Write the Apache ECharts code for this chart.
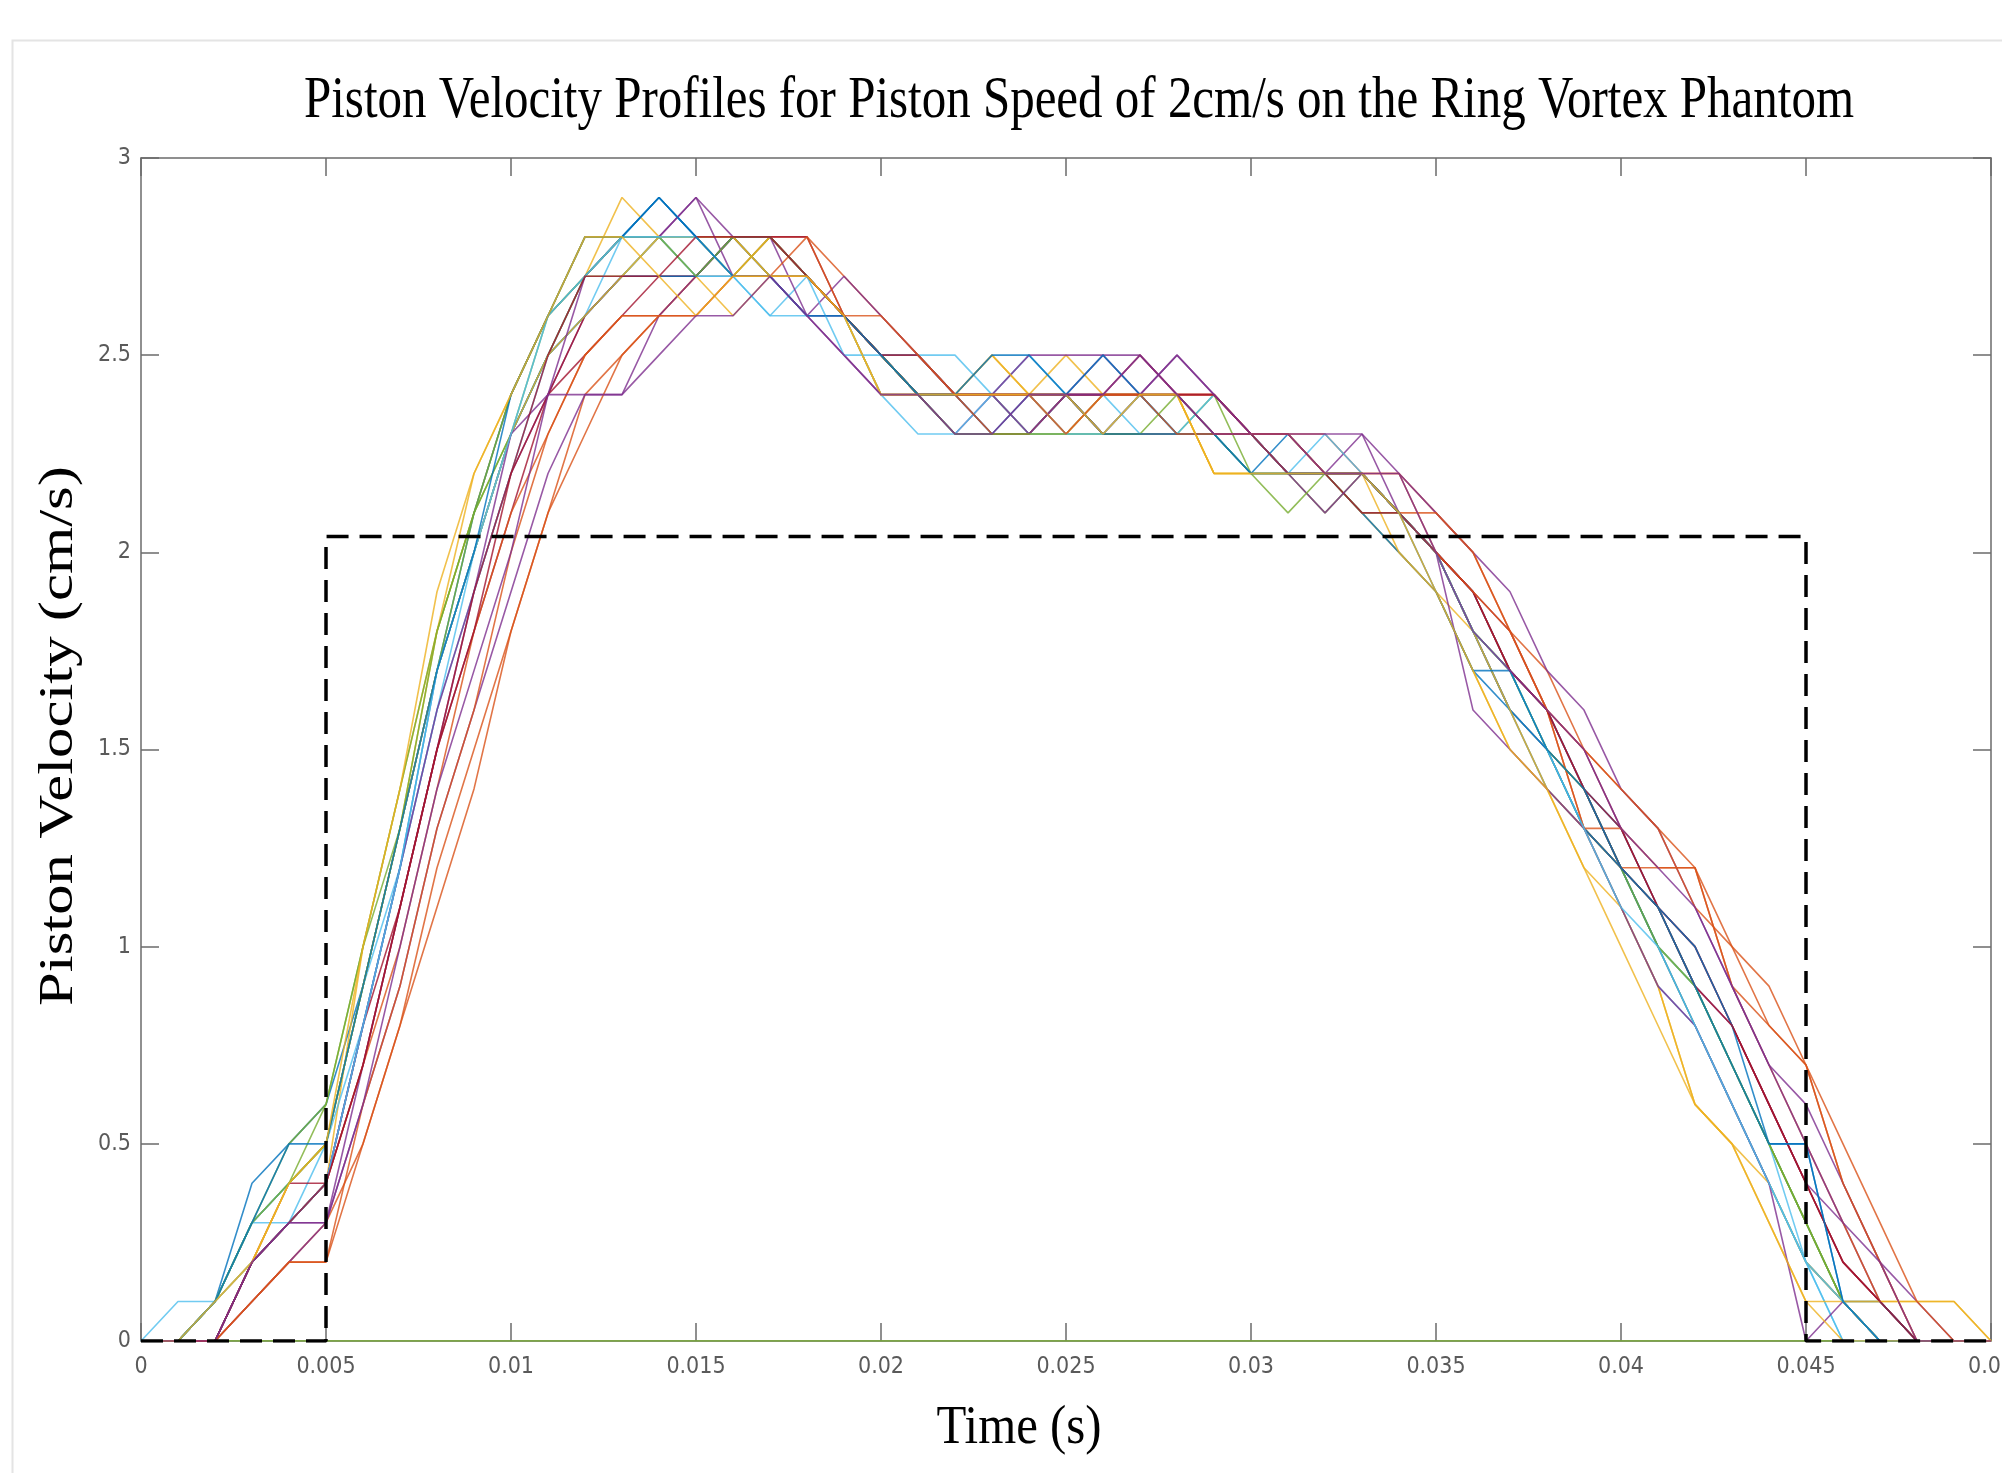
<!DOCTYPE html>
<html>
<head>
<meta charset="utf-8">
<script src="https://cdn.jsdelivr.net/npm/echarts@6/dist/echarts.min.js"></script>
<style>
html,body{margin:0;padding:0;background:#fff;overflow:hidden;}
#chart{width:2002px;height:1473px;}
</style>
</head>
<body>
<div id="chart"></div>
<script>
const titleText = 'Piston Velocity Profiles for Piston Speed of 2cm/s on the Ring Vortex Phantom';
const xName = 'Time (s)';
const yName = 'Piston Velocity (cm/s)';

const times = [0,0.001,0.002,0.003,0.004,0.005,0.006,0.007,0.008,0.009,
  0.010,0.011,0.012,0.013,0.014,0.015,0.016,0.017,0.018,0.019,
  0.020,0.021,0.022,0.023,0.024,0.025,0.026,0.027,0.028,0.029,
  0.030,0.031,0.032,0.033,0.034,0.035,0.036,0.037,0.038,0.039,
  0.040,0.041,0.042,0.043,0.044,0.045,0.046,0.047,0.048,0.049,
  0.050];

const run01 = [0,0,0.1,0.4,0.5,0.6,0.9,1.3,1.7,2.0, 2.3,2.5,2.7,2.8,2.9,2.8,2.8,2.7,2.7,2.6, 2.5,2.4,2.4,2.4,2.3,2.4,2.4,2.4,2.3,2.3, 2.3,2.2,2.2,2.2,2.1,2.0,1.9,1.7,1.6,1.4, 1.3,1.1,0.9,0.7,0.5,0.3,0.1,0,0,0, 0];
const run02 = [0,0,0,0.1,0.2,0.3,0.5,0.8,1.2,1.5, 1.8,2.1,2.4,2.5,2.6,2.7,2.7,2.8,2.8,2.7, 2.6,2.5,2.4,2.4,2.4,2.4,2.3,2.4,2.4,2.4, 2.3,2.3,2.3,2.2,2.2,2.1,2.0,1.8,1.7,1.5, 1.4,1.3,1.2,0.9,0.8,0.7,0.4,0.2,0,0, 0];
const run03 = [0,0,0.1,0.2,0.3,0.4,1.0,1.4,1.8,2.1, 2.4,2.6,2.7,2.9,2.8,2.7,2.6,2.7,2.7,2.6, 2.5,2.4,2.4,2.5,2.4,2.5,2.4,2.4,2.4,2.2, 2.2,2.2,2.2,2.1,2.0,1.9,1.8,1.6,1.5,1.3, 1.2,1.0,0.8,0.6,0.4,0.2,0.1,0.1,0.1,0.1, 0];
const run04 = [0,0,0,0.2,0.3,0.3,0.7,1.1,1.5,1.9, 2.2,2.4,2.6,2.7,2.8,2.9,2.8,2.7,2.6,2.7, 2.6,2.5,2.4,2.3,2.3,2.4,2.5,2.5,2.4,2.3, 2.3,2.2,2.2,2.3,2.1,2.0,1.8,1.6,1.5,1.4, 1.2,1.1,0.9,0.8,0.6,0.4,0.3,0.1,0,0, 0];
const run05 = [0,0,0.1,0.3,0.5,0.6,1.0,1.4,1.8,2.1, 2.3,2.5,2.7,2.7,2.8,2.8,2.7,2.8,2.7,2.6, 2.5,2.4,2.3,2.3,2.3,2.3,2.3,2.3,2.3,2.4, 2.2,2.2,2.1,2.2,2.1,2.0,1.8,1.7,1.5,1.3, 1.2,1.0,0.9,0.7,0.5,0.3,0.1,0,0,0, 0];
const run06 = [0,0.1,0.1,0.3,0.3,0.5,0.9,1.2,1.6,2.0, 2.3,2.5,2.6,2.7,2.8,2.7,2.7,2.6,2.7,2.6, 2.5,2.5,2.5,2.4,2.5,2.4,2.3,2.4,2.3,2.4, 2.3,2.2,2.3,2.2,2.1,2.0,1.9,1.7,1.6,1.4, 1.2,1.0,0.9,0.7,0.5,0.2,0,0,0,0, 0];
const run07 = [0,0,0,0.2,0.4,0.4,0.8,1.1,1.5,1.8, 2.1,2.4,2.5,2.6,2.7,2.7,2.8,2.8,2.8,2.6, 2.5,2.5,2.4,2.4,2.4,2.4,2.4,2.5,2.4,2.4, 2.3,2.2,2.2,2.2,2.1,2.0,1.9,1.8,1.6,1.5, 1.3,1.1,1.0,0.8,0.6,0.4,0.2,0.1,0,0, 0];
const run08 = [0,0,0.1,0.3,0.4,0.5,0.9,1.3,1.7,2.1, 2.4,2.6,2.7,2.8,2.9,2.8,2.7,2.7,2.6,2.6, 2.4,2.4,2.3,2.3,2.3,2.4,2.3,2.3,2.3,2.3, 2.2,2.2,2.2,2.1,2.0,1.9,1.7,1.6,1.4,1.3, 1.2,1.0,0.8,0.6,0.4,0.2,0.1,0,0,0, 0];
const run09 = [0,0,0,0.2,0.3,0.4,0.7,1.0,1.4,1.8, 2.1,2.3,2.5,2.6,2.6,2.7,2.8,2.8,2.7,2.6, 2.5,2.4,2.4,2.4,2.4,2.3,2.4,2.4,2.4,2.4, 2.3,2.3,2.2,2.2,2.1,2.0,1.9,1.7,1.6,1.3, 1.2,1.2,1.2,0.9,0.7,0.5,0.3,0.1,0,0, 0];
const run10 = [0,0,0,0.2,0.4,0.5,0.9,1.3,1.8,2.2, 2.4,2.6,2.8,2.8,2.8,2.8,2.7,2.8,2.7,2.6, 2.4,2.4,2.4,2.4,2.3,2.3,2.4,2.4,2.4,2.2, 2.2,2.2,2.2,2.2,2.0,1.9,1.7,1.5,1.4,1.2, 1.1,0.9,0.6,0.5,0.4,0.2,0.1,0,0,0, 0];
const run11 = [0,0,0,0.1,0.2,0.3,0.6,0.9,1.3,1.6, 1.9,2.2,2.4,2.4,2.6,2.7,2.8,2.8,2.6,2.5, 2.4,2.4,2.3,2.4,2.5,2.5,2.5,2.4,2.5,2.4, 2.3,2.3,2.3,2.3,2.2,2.1,2.0,1.9,1.7,1.6, 1.4,1.3,1.1,0.9,0.7,0.6,0.4,0.2,0.1,0, 0];
const run12 = [0,0,0.1,0.3,0.4,0.6,1.0,1.3,1.7,2.1, 2.3,2.6,2.8,2.8,2.8,2.8,2.8,2.7,2.7,2.6, 2.5,2.4,2.4,2.4,2.4,2.4,2.3,2.3,2.3,2.3, 2.3,2.2,2.2,2.1,2.1,2.0,1.8,1.7,1.5,1.4, 1.2,1.0,0.9,0.7,0.5,0.3,0.1,0,0,0, 0];
const run13 = [0,0,0.1,0.3,0.4,0.5,0.8,1.2,1.6,1.9, 2.2,2.5,2.6,2.8,2.8,2.7,2.7,2.6,2.6,2.6, 2.4,2.3,2.3,2.4,2.3,2.3,2.4,2.3,2.3,2.3, 2.2,2.2,2.2,2.2,2.1,2.0,1.8,1.6,1.5,1.3, 1.1,0.9,0.8,0.6,0.4,0.2,0,0,0,0, 0];
const run14 = [0,0,0,0.2,0.3,0.4,0.7,1.1,1.5,1.8, 2.2,2.4,2.6,2.7,2.7,2.7,2.8,2.8,2.7,2.6, 2.5,2.4,2.4,2.4,2.4,2.4,2.4,2.4,2.4,2.4, 2.3,2.2,2.2,2.1,2.1,2.0,1.9,1.7,1.6,1.4, 1.3,1.1,1.0,0.8,0.6,0.4,0.2,0.1,0,0, 0];
const run15 = [0,0,0,0.2,0.3,0.4,0.8,1.2,1.7,2.0, 2.3,2.5,2.6,2.7,2.7,2.7,2.8,2.8,2.7,2.6, 2.5,2.4,2.4,2.3,2.4,2.4,2.5,2.4,2.3,2.3, 2.2,2.3,2.2,2.2,2.1,2.0,1.8,1.6,1.5,1.3, 1.2,1.1,1.0,0.8,0.5,0.5,0.1,0.1,0,0, 0];
const run16 = [0,0,0,0.1,0.2,0.2,0.5,0.8,1.1,1.4, 1.8,2.1,2.3,2.5,2.6,2.6,2.7,2.7,2.8,2.6, 2.5,2.4,2.4,2.3,2.3,2.4,2.3,2.3,2.3,2.3, 2.3,2.3,2.2,2.2,2.1,2.1,2.0,1.8,1.6,1.3, 1.3,1.2,1.2,1.0,0.9,0.7,0.4,0.2,0,0, 0];
const run17 = [0,0,0.1,0.2,0.4,0.5,0.9,1.3,1.7,2.0, 2.3,2.5,2.6,2.7,2.8,2.8,2.8,2.7,2.7,2.6, 2.4,2.4,2.4,2.5,2.4,2.3,2.4,2.4,2.4,2.2, 2.2,2.2,2.2,2.2,2.1,2.0,1.8,1.6,1.4,1.3, 1.1,0.9,0.6,0.5,0.3,0.1,0.1,0.1,0.1,0.1, 0];
const run18 = [0,0,0,0.2,0.3,0.4,0.8,1.2,1.6,1.9, 2.3,2.4,2.7,2.8,2.8,2.9,2.7,2.7,2.6,2.6, 2.5,2.4,2.4,2.4,2.3,2.4,2.3,2.4,2.5,2.4, 2.3,2.2,2.1,2.2,2.1,2.0,1.6,1.5,1.4,1.3, 1.1,0.9,0.8,0.6,0.4,0,0.1,0,0,0, 0];
const run19 = [0,0,0.1,0.3,0.4,0.5,0.9,1.3,1.8,2.1, 2.4,2.6,2.7,2.8,2.8,2.7,2.8,2.8,2.7,2.6, 2.5,2.4,2.3,2.3,2.3,2.3,2.3,2.3,2.4,2.3, 2.2,2.1,2.2,2.2,2.1,2.0,1.8,1.7,1.5,1.4, 1.2,1.1,0.9,0.7,0.5,0.3,0.1,0,0,0, 0];
const run20 = [0,0,0.1,0.2,0.3,0.4,0.8,1.2,1.7,2.0, 2.3,2.6,2.7,2.8,2.8,2.8,2.7,2.7,2.7,2.5, 2.5,2.5,2.4,2.4,2.4,2.3,2.3,2.4,2.4,2.3, 2.3,2.2,2.2,2.2,2.1,2.0,1.8,1.7,1.5,1.3, 1.1,1.0,0.8,0.6,0.4,0.2,0.1,0,0,0, 0];
const run21 = [0,0,0,0.2,0.3,0.4,0.7,1.1,1.5,1.9, 2.2,2.5,2.7,2.7,2.7,2.8,2.8,2.8,2.7,2.6, 2.5,2.5,2.4,2.4,2.4,2.4,2.4,2.4,2.4,2.3, 2.3,2.2,2.2,2.2,2.1,2.0,1.9,1.7,1.6,1.4, 1.2,1.1,0.9,0.8,0.6,0.4,0.2,0.1,0,0, 0];
const run22 = [0,0,0.1,0.3,0.5,0.5,0.9,1.3,1.7,2.0, 2.4,2.6,2.8,2.8,2.9,2.8,2.7,2.7,2.6,2.6, 2.5,2.4,2.4,2.5,2.5,2.4,2.3,2.3,2.3,2.3, 2.2,2.2,2.2,2.2,2.1,1.9,1.7,1.7,1.5,1.4, 1.2,1.1,0.9,0.7,0.5,0.5,0.1,0,0,0, 0];
const run23 = [0,0,0,0.1,0.2,0.2,0.6,0.9,1.3,1.6, 2.0,2.3,2.5,2.6,2.6,2.6,2.7,2.7,2.7,2.6, 2.6,2.5,2.4,2.4,2.4,2.3,2.4,2.4,2.3,2.3, 2.3,2.3,2.2,2.2,2.2,2.0,1.9,1.8,1.6,1.5, 1.4,1.3,1.1,1.0,0.8,0.7,0.5,0.3,0.1,0, 0];
const run24 = [0,0,0.1,0.2,0.4,0.5,1.0,1.4,1.9,2.2, 2.4,2.6,2.8,2.8,2.7,2.6,2.7,2.7,2.7,2.6, 2.4,2.4,2.4,2.4,2.4,2.4,2.3,2.4,2.4,2.2, 2.2,2.2,2.2,2.2,2.1,1.9,1.7,1.5,1.4,1.2, 1.0,0.8,0.6,0.5,0.3,0.1,0,0,0,0, 0];
const run25 = [0,0,0,0.2,0.3,0.3,0.6,1.0,1.4,1.7, 2.0,2.4,2.4,2.4,2.5,2.6,2.6,2.7,2.6,2.5, 2.4,2.4,2.3,2.3,2.4,2.4,2.4,2.5,2.4,2.3, 2.3,2.3,2.2,2.2,2.2,2.0,1.8,1.7,1.6,1.5, 1.3,1.2,1.1,0.9,0.7,0.5,0.3,0.2,0,0, 0];

const runs = [run01,run02,run03,run04,run05,run06,run07,run08,run09,run10,
              run11,run12,run13,run14,run15,run16,run17,run18,run19,run20,
              run21,run22,run23,run24,run25];

const baselineTimes = [0, 0.05];
const baselineValues = [0, 0];

const refTimes = [0, 0.005, 0.005, 0.045, 0.045, 0.05];
const refValues = [0, 0, 2.04, 2.04, 0, 0];

const xTicks = {min: 0, max: 0.05, interval: 0.005};
const yTicks = {min: 0, max: 3, interval: 0.5};

const palette = ['#0072BD','#D95319','#EDB120','#7E2F8E','#77AC30','#4DBEEE','#A2142F'];

function pairs(ts, vs){ return ts.map((t,i)=>[t, vs[i]]); }

function measure(text, font){
  const c = document.createElement('canvas').getContext('2d');
  c.font = font;
  return c.measureText(text).width;
}

const serif = '"Liberation Serif","Times New Roman","DejaVu Serif",serif';
const narrow = '"Liberation Sans Narrow","Arial Narrow","DejaVu Sans Condensed","Liberation Sans",sans-serif';

const titleFont = 60;
const titleScale = 1550 / measure(titleText, titleFont + 'px ' + serif);
const xNameFont = 55;
const xNameScale = 165 / measure(xName, xNameFont + 'px ' + serif);
const yNameFont = 48;
const yNameScale = 540 / measure(yName, yNameFont + 'px ' + serif);

const chart = echarts.init(document.getElementById('chart'), null, {renderer: 'canvas', width: 2002, height: 1473});

const series = runs.map((r, i) => ({
  type: 'line',
  data: pairs(times, r),
  showSymbol: false,
  symbol: 'none',
  lineStyle: {color: palette[i % palette.length], width: 1.6, opacity: 0.8},
  itemStyle: {color: palette[i % palette.length]},
  z: 2,
  silent: true
}));

series.push({
  type: 'line',
  data: pairs(baselineTimes, baselineValues),
  symbol: 'none',
  lineStyle: {color: '#77AC30', width: 1.5},
  z: 1,
  silent: true
});

series.push({
  type: 'line',
  data: pairs(refTimes, refValues),
  symbol: 'none',
  lineStyle: {color: '#000000', width: 3.5, type: [22, 11]},
  z: 5,
  silent: true
});

const tickCommon = {show: true, inside: true, length: 18, lineStyle: {color: '#6b6b6b', width: 1.5}};
const lineCommon = {show: true, onZero: false, lineStyle: {color: '#6b6b6b', width: 1.5}};
const labelCommon = {fontFamily: narrow, fontSize: 23, color: '#5a5a5a'};

function fmt(v){ return String(parseFloat(v.toFixed(4))); }

chart.setOption({
  animation: false,
  backgroundColor: '#ffffff',
  grid: {left: 141, right: 11, top: 158, bottom: 132, containLabel: false, outerBoundsMode: 'none'},
  xAxis: [
    {type: 'value', position: 'bottom', min: xTicks.min, max: xTicks.max, interval: xTicks.interval,
     axisLine: lineCommon, axisTick: tickCommon, splitLine: {show: false},
     axisLabel: Object.assign({margin: 15, formatter: fmt, showMaxLabel: true, showMinLabel: true, hideOverlap: false}, labelCommon)},
    {type: 'value', position: 'top', min: xTicks.min, max: xTicks.max, interval: xTicks.interval,
     axisLine: lineCommon, axisTick: tickCommon, splitLine: {show: false}, axisLabel: {show: false}}
  ],
  yAxis: [
    {type: 'value', position: 'left', min: yTicks.min, max: yTicks.max, interval: yTicks.interval,
     axisLine: lineCommon, axisTick: tickCommon, splitLine: {show: false},
     axisLabel: Object.assign({margin: 10, formatter: fmt}, labelCommon)},
    {type: 'value', position: 'right', min: yTicks.min, max: yTicks.max, interval: yTicks.interval,
     axisLine: lineCommon, axisTick: tickCommon, splitLine: {show: false}, axisLabel: {show: false}}
  ],
  graphic: [
    {type: 'rect', left: 10, top: 38, z: -10, silent: true,
     shape: {width: 2010, height: 1460}, style: {fill: 'none', stroke: '#e4e4e4', lineWidth: 2}},
    {type: 'text', x: 1079, y: 101, scaleX: titleScale, silent: true,
     style: {text: titleText, font: titleFont + 'px ' + serif, fill: '#000', align: 'center', verticalAlign: 'middle'}},
    {type: 'text', x: 1019, y: 1429, scaleX: xNameScale, silent: true,
     style: {text: xName, font: xNameFont + 'px ' + serif, fill: '#000', align: 'center', verticalAlign: 'middle'}},
    {type: 'text', x: 59, y: 736, rotation: Math.PI / 2, scaleX: yNameScale, silent: true,
     style: {text: yName, font: yNameFont + 'px ' + serif, fill: '#000', align: 'center', verticalAlign: 'middle'}}
  ],
  series: series
});
</script>
</body>
</html>
